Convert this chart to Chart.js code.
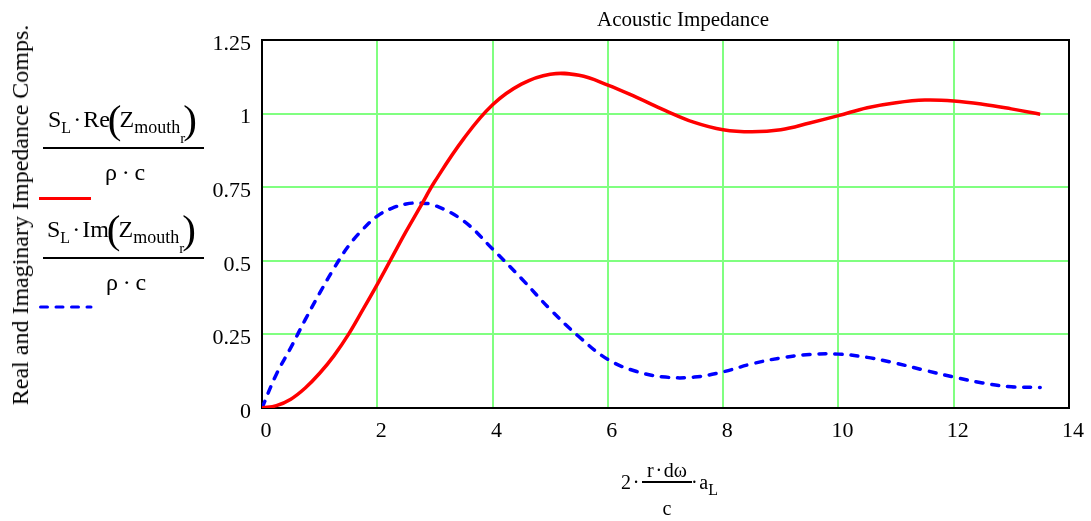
<!DOCTYPE html>
<html><head><meta charset="utf-8">
<script src="https://cdn.jsdelivr.net/npm/chart.js@4.4.1/dist/chart.umd.min.js"></script>
<style>
html,body{margin:0;padding:0;background:#fff;}
#wrap{position:relative;width:1091px;height:521px;font-family:"Liberation Serif","Times New Roman",serif;color:#000;overflow:hidden;}
#c{position:absolute;left:0;top:0;}
.t{position:absolute;white-space:nowrap;line-height:1;}
.m{font-size:24px;}
.subL{font-size:16px;position:relative;top:6px;}
.sub{font-size:18px;position:relative;top:6px;}
.sub2{font-size:15px;position:relative;top:10px;}
.bp{font-size:41px;line-height:0;position:relative;top:6px;margin:0 -2px;}
.bar{position:absolute;height:2px;background:#000;}
.ctr{transform:translateX(-50%);}
</style></head>
<body>
<div id="wrap">
<canvas id="c" width="1091" height="521"></canvas>
<div class="t" id="title" style="left:597px;top:9px;font-size:21px;"></div>
<div class="t" id="ytitle" style="left:20px;top:215px;font-size:24px;transform:translate(-50%,-50%) rotate(-90deg);"></div>

<div class="t m" style="left:48px;top:106.5px;">S<span class="subL">L</span>&#8202;·&#8202;Re<span class="bp">(</span>Z<span class="sub">mouth<span class="sub2">r</span></span><span class="bp">)</span></div>
<div class="bar" style="left:43px;top:147px;width:161px;"></div>
<div class="t m ctr" style="left:125px;top:160px;">ρ&#8201;·&#8201;c</div>
<div style="position:absolute;left:39px;top:196.5px;width:52px;height:3px;background:#ff0000;"></div>

<div class="t m" style="left:47px;top:216.5px;">S<span class="subL">L</span>&#8202;·&#8202;Im<span class="bp">(</span>Z<span class="sub">mouth<span class="sub2">r</span></span><span class="bp">)</span></div>
<div class="bar" style="left:43px;top:257px;width:161px;"></div>
<div class="t m ctr" style="left:126px;top:270px;">ρ&#8201;·&#8201;c</div>
<svg style="position:absolute;left:36px;top:300px;" width="60" height="14"><line x1="4.5" y1="7" x2="55" y2="7" stroke="#0000ff" stroke-width="3" stroke-dasharray="7 8.5" stroke-linecap="round"/></svg>

<div class="t" style="left:621px;top:472.3px;font-size:20px;">2&#8202;·</div>
<div class="t ctr" style="left:667px;top:460.3px;font-size:20px;">r&#8202;·&#8202;dω</div>
<div class="bar" style="left:642px;top:481px;width:50px;"></div>
<div class="t ctr" style="left:667px;top:498.3px;font-size:20px;">c</div>
<div class="t" style="left:691px;top:472.3px;font-size:20px;">·&#8202;a<span style="font-size:16px;position:relative;top:6px;">L</span></div>
</div>
<script>
// ---- data ----
const xValues = [0,0.25,0.5,0.75,1,1.25,1.5,1.75,2,2.25,2.5,2.75,3,3.5,4,4.5,5,5.5,6,6.5,7,7.5,8,8.5,9,9.5,10,10.5,11,11.5,12,12.5,13,13.5];
const reValues = [0,0.008,0.03,0.068,0.118,0.178,0.25,0.334,0.42,0.51,0.6,0.685,0.77,0.915,1.03,1.1,1.134,1.13,1.097,1.055,1.01,0.97,0.945,0.938,0.945,0.968,0.993,1.02,1.037,1.046,1.043,1.032,1.016,0.998];
const imValues = [0,0.115,0.205,0.3,0.39,0.475,0.55,0.607,0.652,0.678,0.693,0.696,0.688,0.635,0.54,0.44,0.335,0.242,0.165,0.124,0.105,0.105,0.123,0.15,0.17,0.182,0.183,0.172,0.152,0.128,0.105,0.085,0.072,0.07];
const xTicks = [0,2,4,6,8,10,12,14];
const yTicks = [0,0.25,0.5,0.75,1,1.25];
const yTickLabels = ['0','0.25','0.5','0.75','1','1.25'];
const titleText = 'Acoustic Impedance';
const yTitleText = 'Real and Imaginary Impedance Comps.';

document.getElementById('title').textContent = titleText;
document.getElementById('ytitle').textContent = yTitleText;

const framePlugin = {
  id: 'frame',
  beforeDatasetsDraw(chart) {
    const a = chart.chartArea, ctx = chart.ctx;
    ctx.save();
    ctx.strokeStyle = '#000';
    ctx.lineWidth = 2;
    ctx.strokeRect(a.left, a.top, a.right - a.left, a.bottom - a.top);
    ctx.restore();
  }
};

const tickFont = {family: '"Liberation Serif","Times New Roman",serif', size: 22};

new Chart(document.getElementById('c'), {
  type: 'line',
  data: {
    datasets: [
      {
        data: xValues.map((x, i) => ({x: x, y: reValues[i]})),
        borderColor: '#ff0000', borderWidth: 3.5, pointRadius: 0,
        tension: 0.4, fill: false
      },
      {
        data: xValues.map((x, i) => ({x: x, y: imValues[i]})),
        borderColor: '#0000ff', borderWidth: 3.5, pointRadius: 0,
        borderDash: [7, 9], borderCapStyle: 'round',
        tension: 0.4, fill: false
      }
    ]
  },
  options: {
    responsive: false, animation: false, events: [],
    layout: {padding: {left: 0, right: 22, top: 40, bottom: 0}},
    plugins: {legend: {display: false}, tooltip: {enabled: false}, title: {display: false}},
    scales: {
      x: {
        type: 'linear', min: 0, max: 14,
        afterBuildTicks: s => { s.ticks = xTicks.map(v => ({value: v})); },
        afterFit: s => { s.height = 113; },
        ticks: {font: tickFont, color: '#000', padding: 10, labelOffset: 4, maxRotation: 0, autoSkip: false,
                callback: v => String(v)},
        grid: {color: '#80ff80', lineWidth: 2, drawTicks: false},
        border: {display: false}
      },
      y: {
        type: 'linear', min: 0, max: 1.25,
        afterBuildTicks: s => { s.ticks = yTicks.map(v => ({value: v})); },
        afterFit: s => { s.width = 262; },
        ticks: {font: tickFont, color: '#000', padding: 11, labelOffset: 4, autoSkip: false,
                callback: v => { const i = yTicks.indexOf(v); return i >= 0 ? yTickLabels[i] : ''; }},
        grid: {color: '#80ff80', lineWidth: 2, drawTicks: false},
        border: {display: false}
      }
    }
  },
  plugins: [framePlugin]
});
</script>
</body></html>
